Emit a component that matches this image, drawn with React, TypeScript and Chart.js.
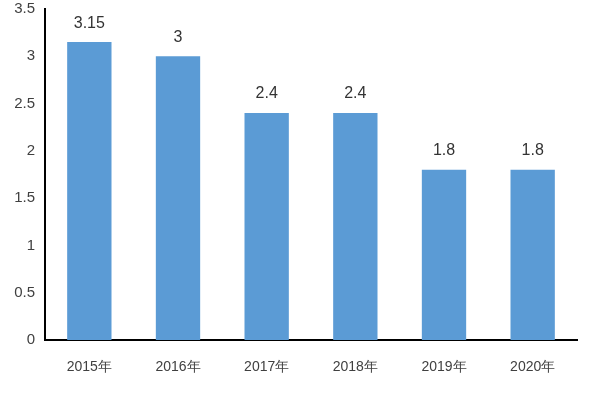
import React, { useEffect, useRef } from "react";
import { Chart, registerables } from "chart.js";

Chart.register(...registerables);

const categories = ["2015年", "2016年", "2017年", "2018年", "2019年", "2020年"];
const values = [3.15, 3, 2.4, 2.4, 1.8, 1.8];
const yTicks = [0, 0.5, 1, 1.5, 2, 2.5, 3, 3.5];

const labelPlugin = {
  id: "barLabels",
  afterDatasetsDraw(chart: any) {
    const { ctx } = chart;
    const meta = chart.getDatasetMeta(0);
    ctx.save();
    ctx.font = "16px 'Liberation Sans', Arial, sans-serif";
    ctx.fillStyle = "#333333";
    ctx.textAlign = "center";
    ctx.textBaseline = "middle";
    meta.data.forEach((bar: any, i: number) => {
      ctx.fillText(String(values[i]), bar.x, bar.y - 19);
    });
    ctx.restore();
  },
};

export default function App() {
  const ref = useRef<HTMLCanvasElement>(null);
  useEffect(() => {
    document.body.style.margin = "0";
    const chart = new Chart(ref.current!, {
      type: "bar",
      data: {
        labels: categories,
        datasets: [
          {
            data: values,
            backgroundColor: "#5B9BD5",
            categoryPercentage: 1,
            barPercentage: 0.5,
          },
        ],
      },
      options: {
        responsive: false,
        animation: false,
        layout: { padding: { top: 9, right: 23, left: 0, bottom: 0 } },
        plugins: { legend: { display: false }, tooltip: { enabled: false } },
        scales: {
          x: {
            grid: { display: false, drawTicks: false },
            border: { color: "#000000", width: 2 },
            ticks: {
              color: "#404040",
              font: { size: 14, family: "'Liberation Sans', Arial, sans-serif" },
              padding: 19,
              maxRotation: 0,
            },
            afterFit: (s: any) => {
              s.height = 60;
            },
          },
          y: {
            min: 0,
            max: 3.5,
            afterBuildTicks: (s: any) => {
              s.ticks = yTicks.map((v) => ({ value: v }));
            },
            grid: { display: false, drawTicks: false },
            border: { color: "#000000", width: 2 },
            ticks: {
              color: "#404040",
              font: { size: 15, family: "'Liberation Sans', Arial, sans-serif" },
              padding: 10,
              callback: (v: any) => String(v),
            },
            afterFit: (s: any) => {
              s.width = 45;
              s.paddingTop = 0;
              s.paddingBottom = 0;
            },
          },
        },
      },
      plugins: [labelPlugin],
    });
    return () => chart.destroy();
  }, []);
  return (
    <div style={{ width: 600, height: 400 }}>
      <canvas ref={ref} width={600} height={400} />
    </div>
  );
}
